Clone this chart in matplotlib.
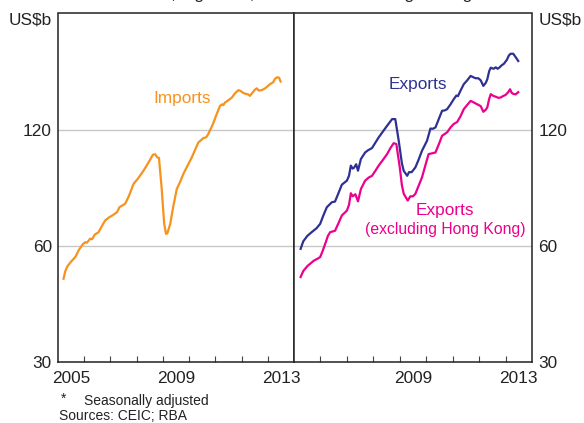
import matplotlib
matplotlib.use("Agg")
import matplotlib.pyplot as plt
from matplotlib.ticker import FixedLocator, NullLocator, FixedFormatter

plt.rcParams['font.family'] = ['Liberation Sans', 'DejaVu Sans']

# ---------------- data ----------------
imp_t = [2005.21, 2005.28, 2005.36, 2005.50, 2005.66, 2005.80, 2005.95, 2006.04, 2006.10,
         2006.23, 2006.30, 2006.40, 2006.55, 2006.68, 2006.80, 2006.95, 2007.10, 2007.25,
         2007.35, 2007.56, 2007.70, 2007.88, 2008.05, 2008.26, 2008.45, 2008.62, 2008.70,
         2008.79, 2008.85, 2008.95, 2009.05, 2009.12, 2009.17, 2009.28, 2009.40, 2009.53,
         2009.65, 2009.78, 2009.90, 2010.10, 2010.22, 2010.35, 2010.45, 2010.54, 2010.65,
         2010.73, 2010.85, 2010.93, 2011.05, 2011.18, 2011.25, 2011.30, 2011.37, 2011.50,
         2011.63, 2011.75, 2011.88, 2011.97, 2012.05, 2012.13, 2012.25, 2012.32, 2012.40,
         2012.50, 2012.58, 2012.65, 2012.77, 2012.90, 2013.00, 2013.08, 2013.20, 2013.28,
         2013.36, 2013.43, 2013.49]
imports = [49.2, 51.5, 53.0, 54.5, 56.0, 58.5, 60.5, 61.2, 61.0,
           62.5, 62.3, 64.0, 65.0, 67.5, 69.7, 71.0, 72.0, 73.2,
           75.5, 77.0, 80.5, 86.7, 89.5, 93.8, 98.5, 103.2, 103.5,
           101.5, 101.3, 85.0, 68.3, 64.3, 64.5, 68.3, 76.0, 84.1,
           87.5, 92.0, 95.5, 101.5, 106.0, 111.0, 112.5, 114.0, 114.5,
           116.8, 121.5, 125.0, 131.5, 138.2, 139.5, 138.8, 141.0, 143.0,
           145.2, 149.0, 151.8, 151.0, 149.5, 148.7, 148.0, 146.7, 149.0,
           152.0, 153.5, 151.5, 151.8, 153.5, 155.5, 157.3, 159.0, 162.5,
           164.0, 163.5, 159.8]

exp_t = [2005.25, 2005.35, 2005.50, 2005.67, 2005.85, 2005.99, 2006.10, 2006.24, 2006.43,
         2006.55, 2006.68, 2006.81, 2007.00, 2007.08, 2007.15, 2007.22, 2007.27, 2007.35,
         2007.42, 2007.53, 2007.69, 2007.80, 2007.95, 2008.08, 2008.20, 2008.36, 2008.52,
         2008.71, 2008.83, 2008.96, 2009.08, 2009.15, 2009.28, 2009.35, 2009.45, 2009.59,
         2009.72, 2009.84, 2010.03, 2010.16, 2010.25, 2010.35, 2010.48, 2010.60, 2010.70,
         2010.79, 2010.92, 2011.04, 2011.14, 2011.20, 2011.30, 2011.42, 2011.55, 2011.68,
         2011.78, 2011.87, 2011.97, 2012.06, 2012.16, 2012.25, 2012.31, 2012.38, 2012.44,
         2012.55, 2012.63, 2012.70, 2012.76, 2012.85, 2012.94, 2013.05, 2013.12, 2013.19,
         2013.29, 2013.38, 2013.48]
exports = [58.8, 61.5, 63.5, 65.0, 66.5, 68.3, 71.5, 75.4, 77.7,
           78.0, 82.0, 86.3, 88.4, 91.0, 96.7, 95.0, 95.5, 97.5,
           93.8, 100.6, 104.6, 106.0, 107.4, 111.0, 114.4, 118.5, 122.7,
           127.7, 127.7, 112.2, 98.0, 93.7, 91.0, 93.0, 93.0, 95.7,
           100.5, 105.7, 112.2, 120.7, 120.5, 121.5, 128.0, 134.2, 134.5,
           135.5, 139.5, 143.8, 147.0, 146.5, 151.5, 157.3, 161.0, 165.3,
           164.0, 163.0, 163.0, 161.0, 155.7, 158.5, 162.0, 170.0, 173.6,
           172.5, 174.0, 172.5, 173.6, 176.0, 177.8, 182.0, 186.5, 188.7,
           188.7, 185.0, 180.7]

exhk_t = [2005.25, 2005.35, 2005.50, 2005.61, 2005.75, 2005.90, 2005.99, 2006.08, 2006.18,
          2006.28, 2006.37, 2006.55, 2006.68, 2006.81, 2007.00, 2007.08, 2007.15, 2007.22,
          2007.32, 2007.42, 2007.53, 2007.69, 2007.82, 2007.95, 2008.08, 2008.20, 2008.36,
          2008.52, 2008.65, 2008.77, 2008.87, 2009.00, 2009.08, 2009.15, 2009.30, 2009.40,
          2009.50, 2009.59, 2009.72, 2009.84, 2009.97, 2010.09, 2010.20, 2010.35, 2010.48,
          2010.60, 2010.79, 2010.92, 2011.04, 2011.17, 2011.30, 2011.42, 2011.55, 2011.68,
          2011.80, 2011.93, 2012.06, 2012.16, 2012.25, 2012.31, 2012.38, 2012.44, 2012.55,
          2012.63, 2012.72, 2012.82, 2012.90, 2013.00, 2013.10, 2013.17, 2013.23, 2013.29,
          2013.38, 2013.48]
exports_ex_hk = [49.7, 51.5, 53.0, 53.8, 54.8, 55.5, 56.0, 58.0, 60.6,
                 63.5, 65.0, 65.5, 68.5, 71.8, 73.9, 76.5, 82.0, 80.5,
                 81.5, 78.1, 84.1, 88.4, 90.0, 91.0, 93.8, 96.7, 100.0,
                 103.6, 107.5, 110.6, 110.0, 95.7, 86.0, 81.7, 78.5, 80.5,
                 80.5, 81.7, 86.0, 90.1, 97.0, 103.6, 104.0, 104.6, 110.0,
                 115.6, 118.0, 121.5, 124.0, 125.5, 130.0, 135.5, 139.0, 142.4,
                 141.0, 139.5, 138.0, 133.4, 135.0, 137.0, 144.0, 148.2, 146.5,
                 146.0, 145.0, 145.3, 146.5, 147.5, 150.0, 152.6, 149.5, 148.5,
                 148.0, 150.0]

y_ticks = [30, 60, 120]
y_tick_labels = ["30", "60", "120"]
year_bounds = list(range(2005, 2015))
left_year_labels = [2005, 2009, 2013]
right_year_labels = [2009, 2013]

ORANGE = "#F7921E"
NAVY = "#2E3192"
PINK = "#EC008C"
GRID = "#C8C8C8"
FRAME = "#222222"

W, H = 584, 423
fig = plt.figure(figsize=(W / 100, H / 100), dpi=100)

ax_bottom = (H - 361.5) / H
ax_height = 348 / H
axL = fig.add_axes([58 / W, ax_bottom, 236 / W, ax_height])
axR = fig.add_axes([294 / W, ax_bottom, 238 / W, ax_height])

FS = 12.4

for ax, labels in ((axL, left_year_labels), (axR, right_year_labels)):
    ax.set_yscale('log')
    ax.set_ylim(30, 240)
    ax.set_xlim(2005, 2014)
    ax.yaxis.set_major_locator(FixedLocator(y_ticks))
    ax.yaxis.set_major_formatter(FixedFormatter(y_tick_labels))
    ax.yaxis.set_minor_locator(NullLocator())
    ax.xaxis.set_major_locator(FixedLocator([y + 0.5 for y in labels]))
    ax.xaxis.set_major_formatter(FixedFormatter([str(y) for y in labels]))
    ax.xaxis.set_minor_locator(FixedLocator(year_bounds[1:-1]))
    ax.tick_params(axis='x', which='major', length=0, pad=7, labelsize=FS, colors='#222222')
    ax.tick_params(axis='x', which='minor', direction='in', length=4.5, width=0.8, color='#444444')
    ax.tick_params(axis='y', which='major', length=0, labelsize=FS, pad=4.5, colors='#222222')
    for y in (60, 120):
        ax.axhline(y, color=GRID, lw=1.0, zorder=0)
    for sp in ax.spines.values():
        sp.set_color(FRAME)
        sp.set_linewidth(1.1)

axR.yaxis.tick_right()

axL.plot(imp_t, imports, color=ORANGE, lw=1.6, zorder=3)
axR.plot(exp_t, exports, color=NAVY, lw=1.6, zorder=3)
axR.plot(exhk_t, exports_ex_hk, color=PINK, lw=1.6, zorder=3)

axL.text(2009.72, 144, "Imports", color=ORANGE, fontsize=FS, ha='center', va='center')
axR.text(2009.70, 156.8, "Exports", color=NAVY, fontsize=FS, ha='center', va='center')
axR.text(2010.71, 74.0, "Exports", color=PINK, fontsize=FS, ha='center', va='center')
axR.text(2010.71, 66.0, "(excluding Hong Kong)", color=PINK, fontsize=11.3, ha='center', va='center')

# units
fig.text(51.7 / W, 1 - 20 / H, "US$b", fontsize=FS, ha='right', va='center', color='#222222')
fig.text(539 / W, 1 - 20 / H, "US$b", fontsize=FS, ha='left', va='center', color='#222222')

# clipped title line at the top (only its descenders are visible in the reference)
fig.text(0.515, 1 + 0.5 / H, "Values, log scale, three-month moving average",
         fontsize=12.5, ha='center', va='baseline', color='#222222')

# footnotes
fig.text(61 / W, 1 - 399 / H, "*", fontsize=10, ha='left', va='center', color='#222222')
fig.text(83.5 / W, 1 - 401 / H, "Seasonally adjusted", fontsize=10, ha='left', va='center', color='#222222')
fig.text(59 / W, 1 - 416 / H, "Sources: CEIC; RBA", fontsize=10, ha='left', va='center', color='#222222')

fig.savefig("out.png", dpi=100)
